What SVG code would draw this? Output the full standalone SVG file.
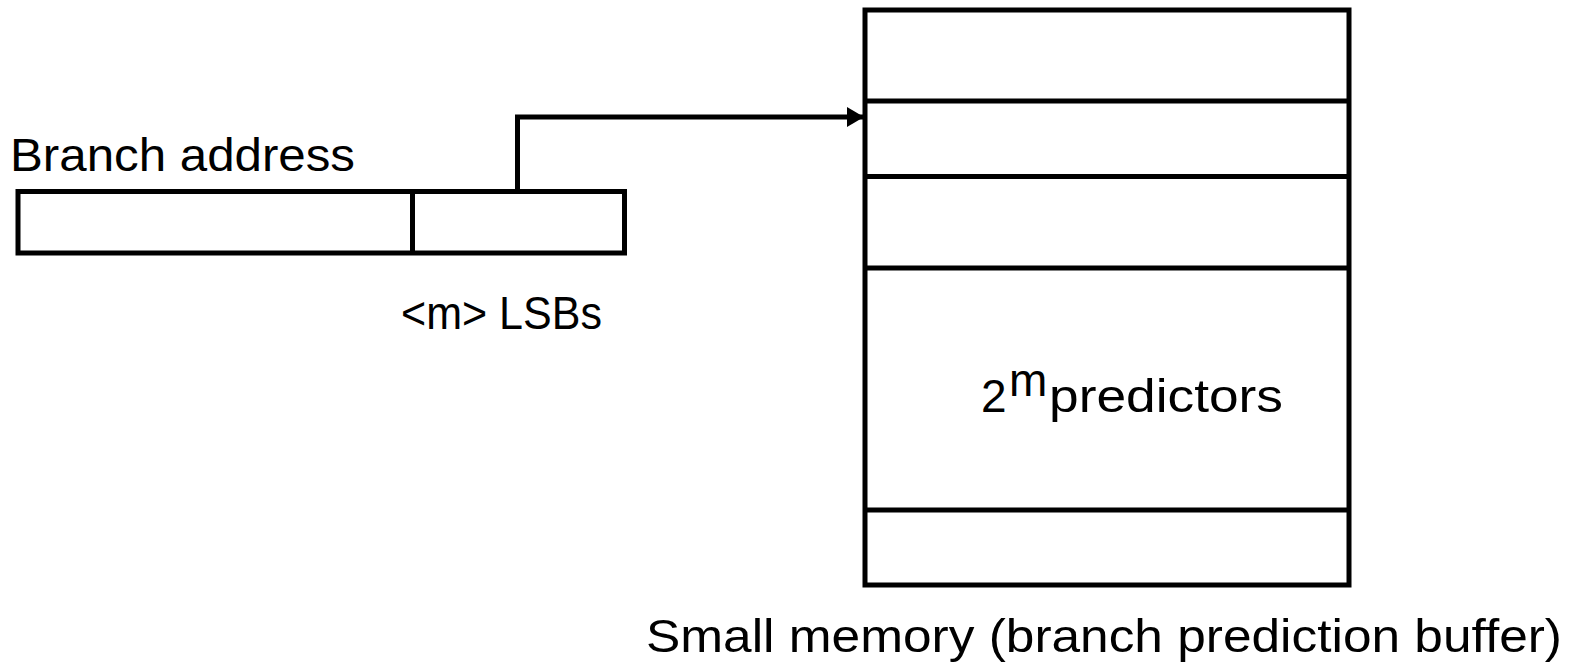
<svg xmlns="http://www.w3.org/2000/svg" width="1582" height="666" viewBox="0 0 1582 666">
  <style>
    .box { fill: none; stroke: #000; stroke-width: 5; }
    .wire { fill: none; stroke: #000; stroke-width: 5; }
    .lbl { font-family: "Liberation Sans", Arial, sans-serif; font-size: 46px; fill: #000; }
  </style>
  <defs>
    <marker id="arrow" markerUnits="userSpaceOnUse" markerWidth="20" markerHeight="22" refX="17" refY="10" orient="auto">
      <path d="M0,0 L17,10 L0,20 Z" fill="#000"/>
    </marker>
  </defs>
  <rect width="1582" height="666" fill="#fff"/>

  <!-- branch address register split into upper bits and m LSBs -->
  <g id="address">
    <rect class="box" x="18" y="191.5" width="606.5" height="61.5"/>
    <line class="box" x1="412.5" y1="191.5" x2="412.5" y2="253"/>
    <text class="lbl" x="10" y="171" textLength="345" lengthAdjust="spacingAndGlyphs">Branch address</text>
    <text class="lbl" x="401" y="329" textLength="201" lengthAdjust="spacingAndGlyphs">&lt;m&gt; LSBs</text>
  </g>

  <!-- prediction buffer with rows -->
  <g id="memory">
    <rect class="box" x="865" y="10" width="484" height="575"/>
    <line class="box" x1="865" y1="101" x2="1349" y2="101"/>
    <line class="box" x1="865" y1="176.5" x2="1349" y2="176.5"/>
    <line class="box" x1="865" y1="268" x2="1349" y2="268"/>
    <line class="box" x1="865" y1="510" x2="1349" y2="510"/>
    <text class="lbl" x="981" y="412">2</text>
    <text class="lbl" x="1009" y="396" font-size="22">m</text>
    <text class="lbl" x="1049" y="412" textLength="234" lengthAdjust="spacingAndGlyphs">predictors</text>
    <text class="lbl" x="646" y="652" textLength="916" lengthAdjust="spacingAndGlyphs">Small memory (branch prediction buffer)</text>
  </g>

  <g id="connectors">
    <path class="wire" d="M517.5,191.5 V117 H864" marker-end="url(#arrow)"/>
  </g>
</svg>
